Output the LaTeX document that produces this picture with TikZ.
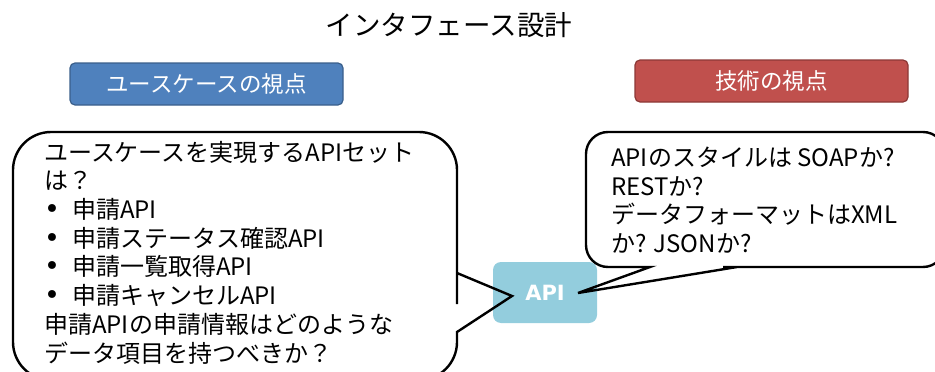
\documentclass[tikz,border=0pt]{standalone}
\usepackage{fontspec}
\setmainfont{Noto Sans CJK JP}
\newfontfamily\latinfont{DejaVu Sans}
\definecolor{ucblue}{HTML}{4F81BD}
\definecolor{ucedge}{HTML}{3A5F8B}
\definecolor{techred}{HTML}{C0504D}
\definecolor{techedge}{HTML}{8C3836}
\definecolor{apiblue}{HTML}{93CDDD}
\newcommand{\bul}{\makebox[28pt][l]{{\latinfont\fontsize{27}{27}\selectfont •}}}
\begin{document}
\begin{tikzpicture}[x=1pt,y=-1pt]
\tikzset{
  header/.style={rounded corners=5pt, line width=1.2pt, text=white,
    font=\fontsize{22.5}{24}\selectfont, minimum width=273pt,
    minimum height=42pt, inner sep=0pt},
  apibox/.style={fill=apiblue, rounded corners=8pt, minimum width=104pt,
    minimum height=61pt, inner sep=0pt, text=white,
    font=\latinfont\bfseries\fontsize{21}{22}\selectfont},
  outline/.style={draw=black, line width=2.4pt, line join=miter},
  bodytext/.style={align=left, inner sep=0pt,
    font=\fontsize{24}{28.7}\selectfont},
}
\path[use as bounding box] (0,0) rectangle (935,372);
\clip (0,0) rectangle (935,372);

% title
\node[font=\fontsize{27.5}{30}\selectfont] (title) at (449,25) {インタフェース設計};

% the two viewpoint headers
\node[header, fill=ucblue, draw=ucedge] (uc) at (206.5,84) {ユースケースの視点};
\node[header, fill=techred, draw=techedge] (tech) at (771.5,81) {技術の視点};

% points the callout tails aim at, inside the API node
\coordinate (tipL) at (512,296);
\coordinate (tipR) at (578,293);

% callout backgrounds
\fill[white] (13,250) [rounded corners=38pt] -- (13,132) -- (457,132) -- (457,266)
  [sharp corners] -- (457,273) -- (tipL) -- (457,332) -- (457,336)
  [rounded corners=38pt] -- (457,380) -- (13,380) -- cycle;
\fill[white] (700,132) [rounded corners=22pt] -- (945,132) -- (945,267) -- (745,267)
  [sharp corners] -- (737,267) -- (tipR) -- (650,267) -- (642,267)
  [rounded corners=22pt] -- (586,267) -- (586,132) -- cycle;

\node[apibox] (api) at (545,292.5) {API};

% callout outlines
\draw[outline] (13,250) [rounded corners=38pt] -- (13,132) -- (457,132) -- (457,266)
  [sharp corners] -- (457,273) -- (tipL) -- (457,332) -- (457,336)
  [rounded corners=38pt] -- (457,380) -- (13,380) -- cycle;
\draw[outline] (700,132) [rounded corners=22pt] -- (945,132) -- (945,267) -- (745,267)
  [sharp corners] -- (737,267) -- (tipR) -- (650,267) -- (642,267)
  [rounded corners=22pt] -- (586,267) -- (586,132) -- cycle;

% callout texts
\node[bodytext, anchor=west] (lefttext) at (44,252.5) {%
ユースケースを実現するAPIセット\\
は？\\
\bul 申請API\\
\bul 申請ステータス確認API\\
\bul 申請一覧取得API\\
\bul 申請キャンセルAPI\\
申請APIの申請情報はどのような\\
データ項目を持つべきか？};
\node[bodytext, anchor=west] (righttext) at (611,200) {%
APIのスタイルは SOAPか?\\
RESTか?\\
データフォーマットはXML\\
か? JSONか?};
\end{tikzpicture}
\end{document}
